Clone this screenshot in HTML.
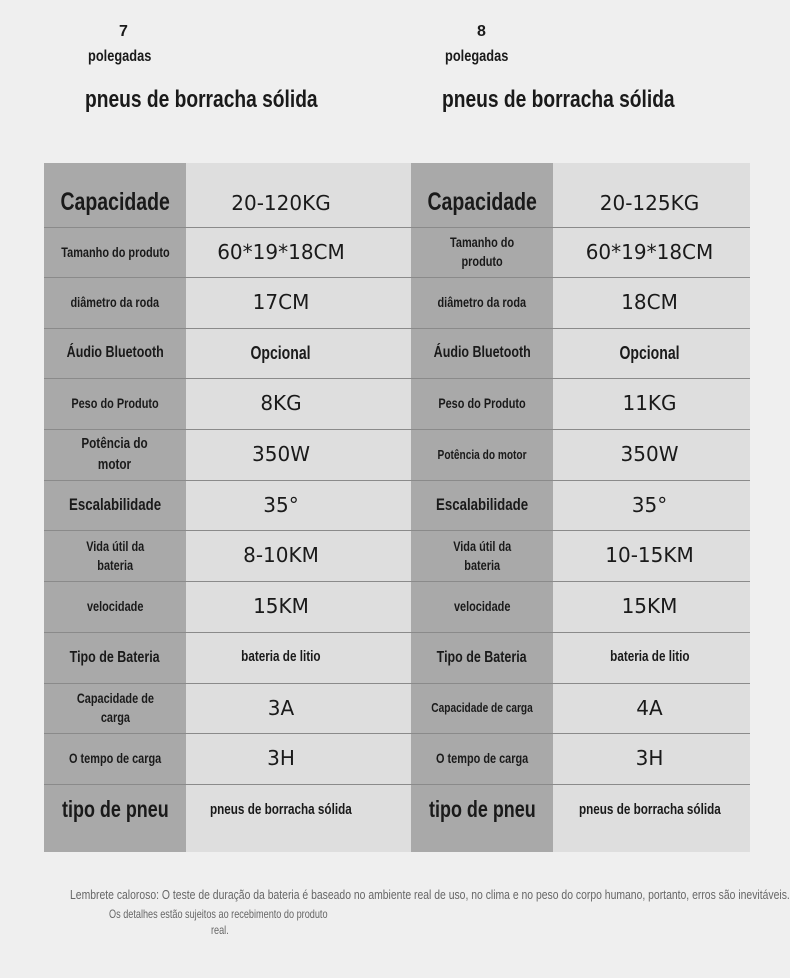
<!DOCTYPE html><html><head><meta charset="utf-8"><style>
body{margin:0;width:790px;height:978px;background:#efefef;position:relative;overflow:hidden;font-family:"Liberation Sans",sans-serif;color:#1a1a1a}
.a{position:absolute;white-space:nowrap;transform-origin:0 0}
.c{position:absolute;display:flex;align-items:center;justify-content:center;text-align:center;line-height:1.35}
.c span{display:inline-block;transform:scaleX(0.78);white-space:nowrap}
.l{font-weight:bold;font-size:14px}
.v{font-family:"DejaVu Sans","Liberation Sans",sans-serif;font-size:20px;font-weight:normal}
.v span{transform:none}
.s{font-size:14px;font-weight:bold}
.hl{position:absolute;height:1px;background:#8a8a8a}
</style></head><body>
<div class="a" style="left:119px;top:23px;font-size:16px;font-weight:bold">7</div>
<div class="a" style="left:88px;top:48px;font-size:16px;font-weight:bold;transform:scaleX(0.8)">polegadas</div>
<div class="a" style="left:85px;top:86px;font-size:24px;font-weight:bold;transform:scaleX(0.8)">pneus de borracha sólida</div>
<div class="a" style="left:477px;top:23px;font-size:16px;font-weight:bold">8</div>
<div class="a" style="left:445px;top:48px;font-size:16px;font-weight:bold;transform:scaleX(0.8)">polegadas</div>
<div class="a" style="left:442px;top:86px;font-size:24px;font-weight:bold;transform:scaleX(0.8)">pneus de borracha sólida</div>
<div class="a" style="left:44px;top:163px;width:142px;height:689px;background:#a9a9a9"></div>
<div class="a" style="left:186px;top:163px;width:225px;height:689px;background:#dedede"></div>
<div class="a" style="left:411px;top:163px;width:142px;height:689px;background:#a9a9a9"></div>
<div class="a" style="left:553px;top:163px;width:197px;height:689px;background:#dedede"></div>
<div id="t"></div>
<div class="a" style="left:70px;top:887px;font-size:13px;color:#666;transform:scaleX(0.8)">Lembrete caloroso: O teste de duração da bateria é baseado no ambiente real de uso, no clima e no peso do corpo humano, portanto, erros são inevitáveis.</div>
<div class="a" style="left:109px;top:907px;font-size:12px;color:#666;transform:scaleX(0.76)">Os detalhes estão sujeitos ao recebimento do produto</div>
<div class="a" style="left:211px;top:923px;font-size:12px;color:#666;transform:scaleX(0.76)">real.</div>
<script>
var y=[163,227,277,328,378,429,480,530,581,632,683,733,784,852];
var L=[["Capacidade","20-120KG","Capacidade","20-125KG"],
["Tamanho do produto","60*19*18CM","Tamanho do<br>produto","60*19*18CM"],
["diâmetro da roda","17CM","diâmetro da roda","18CM"],
["Áudio Bluetooth","Opcional","Áudio Bluetooth","Opcional"],
["Peso do Produto","8KG","Peso do Produto","11KG"],
["Potência do<br>motor","350W","Potência do motor","350W"],
["Escalabilidade","35°","Escalabilidade","35°"],
["Vida útil da<br>bateria","8-10KM","Vida útil da<br>bateria","10-15KM"],
["velocidade","15KM","velocidade","15KM"],
["Tipo de Bateria","bateria de litio","Tipo de Bateria","bateria de litio"],
["Capacidade de<br>carga","3A","Capacidade de carga","4A"],
["O tempo de carga","3H","O tempo de carga","3H"],
["tipo de pneu","pneus de borracha sólida","tipo de pneu","pneus de borracha sólida"]];
var h="";
var big={0:1,12:1};var lsz={3:16,6:17,9:16,5:15};
var smallv={3:1,9:1,12:1};
for(var i=0;i<13;i++){var t=y[i],hh=y[i+1]-t;
var off=i==0?8:(i==12?-8:0);
var fs=big[i]?(i==0?25:23):(lsz[i]||14);
var vcls=smallv[i]?'s':'v';var vfs=i==3?18:(smallv[i]?15:20);
var st='top:'+(t+off)+'px;height:'+hh+'px;';
h+='<div class="c l" style="left:44px;'+st+'width:142px;font-size:'+fs+'px"><span>'+L[i][0]+'</span></div>';
h+='<div class="c '+vcls+'" style="left:186px;'+st+'width:190px;font-size:'+vfs+'px"><span>'+L[i][1]+'</span></div>';
h+='<div class="c l" style="left:411px;'+st+'width:142px;font-size:'+(L[i][2]=="Potência do motor"||L[i][2]=="Capacidade de carga"?13:fs)+'px"><span>'+L[i][2]+'</span></div>';
h+='<div class="c '+vcls+'" style="left:553px;'+st+'width:193px;font-size:'+vfs+'px"><span>'+L[i][3]+'</span></div>';
if(i>0)h+='<div class="hl" style="left:44px;top:'+t+'px;width:706px"></div>';}
document.getElementById('t').outerHTML=h;
</script>
</body></html>
